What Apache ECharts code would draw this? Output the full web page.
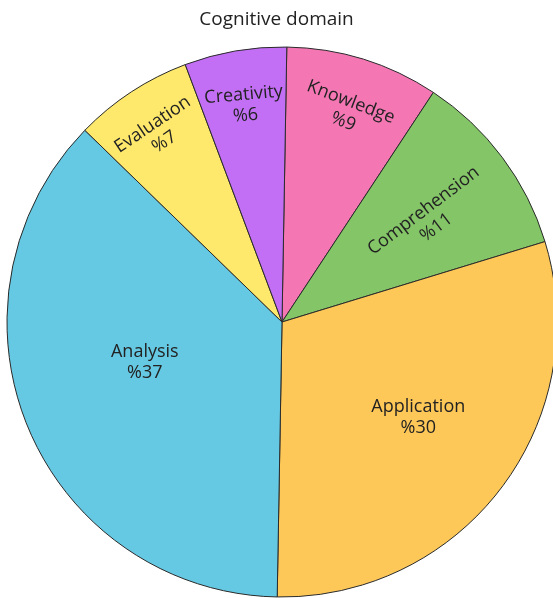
<!DOCTYPE html>
<html>
<head>
<meta charset="utf-8">
<script src="https://cdn.jsdelivr.net/npm/echarts@6/dist/echarts.min.js"></script>
<style>
  html, body { margin: 0; padding: 0; background: #fff; }
  #chart { width: 553px; height: 598px; }
</style>
</head>
<body>
<div id="chart"></div>
<script>
// Share of each cognitive level (percent)
const categories = ['Knowledge', 'Comprehension', 'Application', 'Analysis', 'Evaluation', 'Creativity'];
const shares = [9, 11, 30, 37, 7, 6];
const sliceColors = ['#F477B4', '#83C567', '#FEC858', '#66C9E3', '#FFE96C', '#C26EF5'];

// Label placement: fraction of the radius, angular nudge (deg) and text rotation (deg)
const labelRadius = [0.80, 0.655, 0.605, 0.52, 0.82, 0.80];
const labelNudge = [0, -2, 2, -6, 0, 0];
const labelRotate = [-21, 37, 0, 0, 34, 5];

const CENTER = [282, 322];
const RADIUS = 275;
const START_ANGLE = 89;

const total = shares.reduce((a, b) => a + b, 0);
const midAngles = [];
let acc = 0;
shares.forEach(v => {
  midAngles.push(START_ANGLE - (acc + v / 2) / total * 360);
  acc += v;
});

const chart = echarts.init(document.getElementById('chart'), null, { renderer: 'canvas' });

chart.setOption({
  animation: false,
  title: {
    text: 'Cognitive domain',
    left: 'center',
    top: 5,
    textStyle: {
      fontFamily: 'Open Sans',
      fontSize: 19,
      fontWeight: 'normal',
      color: '#222'
    }
  },
  series: [{
    type: 'pie',
    center: CENTER,
    radius: [0, RADIUS],
    startAngle: START_ANGLE,
    clockwise: true,
    avoidLabelOverlap: false,
    itemStyle: {
      borderColor: '#2a2a2a',
      borderWidth: 1
    },
    label: {
      show: true,
      position: 'inside',
      formatter: p => p.name + '\n%' + p.value,
      fontFamily: 'Open Sans',
      fontSize: 18,
      lineHeight: 21,
      color: '#222'
    },
    labelLine: { show: false },
    labelLayout: params => {
      const i = params.dataIndex;
      const a = (midAngles[i] + labelNudge[i]) * Math.PI / 180;
      const r = RADIUS * labelRadius[i];
      return {
        x: CENTER[0] + r * Math.cos(a),
        y: CENTER[1] - r * Math.sin(a),
        rotate: labelRotate[i],
        align: 'center',
        verticalAlign: 'middle'
      };
    },
    data: categories.map((name, i) => ({
      name: name,
      value: shares[i],
      itemStyle: { color: sliceColors[i] }
    }))
  }]
});
</script>
</body>
</html>
